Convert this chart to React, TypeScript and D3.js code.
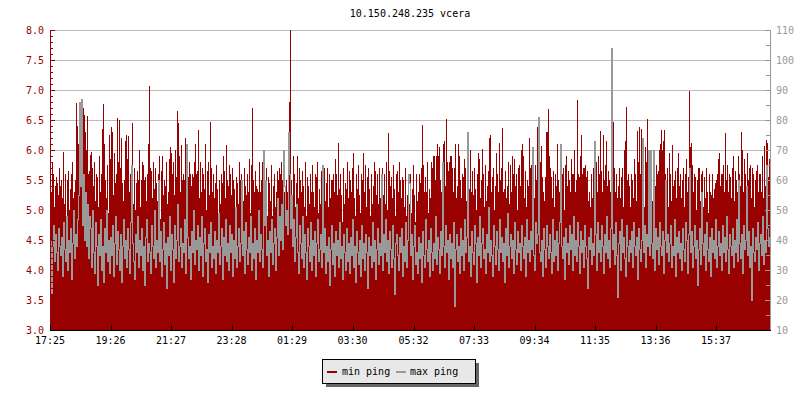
import React from "react";
import * as d3 from "d3";

const TITLE = "10.150.248.235 vcera";
const START = "17:25";
const STEP_MIN = 2;
const X_TICK_LABELS = ["17:25","19:26","21:27","23:28","01:29","03:30","05:32","07:33","09:34","11:35","13:36","15:37"];
const LEFT_TICKS = [3.0,3.5,4.0,4.5,5.0,5.5,6.0,6.5,7.0,7.5,8.0];
const RIGHT_TICKS = [10,20,30,40,50,60,70,80,90,100,110];
const SERIES_NAMES = ["min ping", "max ping"];

// min ping (left axis), one sample per 2 minutes
const minPing = [
5.4,5.3,5.8,5.6,5.05,5.4,5.55,5.45,5.25,5.7,
5.4,5.5,5.2,5.97,5.1,5.6,4.85,5.5,5.65,5.0,
5.35,5.6,5.8,5.2,5.3,5.5,6.78,6.4,6.1,5.3,
6.1,5.6,6.4,6.7,6.58,6.3,6.0,6.57,5.6,5.65,
5.92,5.97,5.7,5.4,5.8,5.15,5.6,5.55,5.05,5.9,
5.3,5.6,6.35,6.77,6.1,5.5,5.2,5.75,4.95,6.25,
5.85,6.38,6.3,5.25,5.95,5.45,5.6,6.54,5.8,6.5,
5.7,6.2,5.45,5.15,5.5,6.15,6.25,5.85,6.24,5.3,
5.6,5.2,6.45,5.1,5.7,5.0,5.45,5.65,5.5,6.0,
5.05,5.5,5.8,5.75,5.5,5.55,5.15,5.6,6.1,7.07,
5.7,5.65,5.2,5.8,5.35,5.7,5.45,5.15,5.6,5.9,
4.85,5.65,5.9,5.25,5.5,5.4,5.8,5.1,5.3,5.85,
6.05,5.95,5.6,5.8,5.25,6.0,5.55,6.65,6.45,5.9,
5.3,6.08,5.5,5.6,5.5,6.2,5.3,5.6,5.55,5.8,
5.6,5.4,5.6,5.55,5.8,6.1,5.6,5.65,6.33,5.2,
5.8,5.3,5.7,5.6,5.35,6.1,5.0,5.65,5.8,5.25,
6.47,5.7,5.3,5.6,5.2,5.45,5.75,5.35,4.8,5.5,
5.1,5.6,5.45,5.9,5.65,5.2,6.08,5.5,5.4,5.75,
5.6,5.25,5.7,5.5,5.35,4.9,5.55,5.45,5.1,5.8,
5.5,5.6,5.45,5.15,5.7,5.4,5.25,5.6,5.3,5.85,
4.95,5.75,6.7,5.5,5.3,5.65,5.4,5.35,5.3,5.8,
5.3,5.5,5.8,5.35,5.5,5.1,5.7,4.9,5.55,5.45,
5.15,5.75,4.9,5.4,5.6,5.05,5.3,5.65,5.5,5.7,
5.6,5.8,5.5,5.85,5.3,5.15,5.5,5.3,5.1,6.8,
8.0,5.5,5.2,5.9,5.6,5.05,5.45,5.9,5.2,5.7,
5.5,5.3,5.65,5.4,5.05,5.8,4.9,5.55,5.4,5.1,
5.6,5.3,5.75,5.3,5.05,5.6,5.55,5.8,4.95,5.35,
5.1,5.65,5.2,4.9,5.7,5.15,5.45,5.7,5.05,5.6,
5.2,5.5,5.5,5.6,5.3,5.85,5.6,5.25,6.12,5.35,
5.6,5.25,4.8,5.7,5.1,5.45,5.35,5.8,5.2,5.65,
5.5,5.3,5.7,5.95,5.2,4.9,5.6,5.35,5.75,5.25,
4.95,5.6,5.5,5.95,5.3,5.75,5.05,5.55,5.7,5.35,
4.9,5.6,5.1,5.4,5.8,5.65,5.25,5.6,5.1,5.7,
5.2,5.45,5.7,5.25,5.6,5.1,5.8,5.0,6.28,5.65,
5.4,5.55,5.2,5.75,5.35,4.9,5.6,5.65,5.3,5.8,
5.5,5.2,5.55,5.5,5.05,5.7,4.9,5.25,5.6,5.1,
5.6,4.95,5.35,5.75,5.25,4.8,5.6,5.15,5.3,5.6,
5.45,5.7,6.42,5.75,5.3,5.55,5.3,5.8,4.95,5.35,
5.2,5.8,5.7,5.9,5.9,5.5,5.9,6.1,5.9,6.05,
5.5,5.3,5.15,6.1,6.15,5.4,6.52,5.8,5.65,5.8,
5.9,5.9,5.7,5.3,5.7,6.1,5.2,5.4,6.1,5.9,
5.5,5.2,5.6,5.55,5.85,5.7,5.15,5.7,5.6,5.35,
6.0,5.3,5.65,5.25,5.7,5.35,5.0,5.6,5.95,5.85,
5.2,5.5,6.02,5.6,5.05,5.75,5.15,5.4,5.65,6.2,
6.25,5.3,5.55,5.7,5.0,5.4,5.95,5.6,5.3,6.12,
5.5,5.7,6.37,5.3,5.35,5.65,5.2,5.4,5.8,5.1,
5.75,5.3,5.9,5.6,5.85,5.4,5.6,5.0,5.7,5.75,
5.4,6.0,6.1,5.9,5.2,5.65,5.05,5.5,5.4,6.2,
5.7,5.75,5.3,5.65,5.2,5.75,5.5,6.39,5.3,6.26,
5.8,6.07,5.55,5.3,5.15,5.55,6.3,6.3,6.68,5.9,
5.7,5.55,5.2,5.65,5.05,5.6,5.4,6.1,5.5,5.3,
5.8,5.2,5.6,5.7,5.0,5.75,5.9,5.4,5.65,5.5,
5.3,5.85,5.6,5.6,6.0,5.3,5.5,6.83,5.6,5.55,
5.9,6.25,5.6,5.7,5.7,5.75,5.55,5.65,5.15,5.3,
5.05,5.6,5.2,5.7,5.5,4.95,5.8,5.3,5.9,5.6,
6.32,5.65,5.3,6.25,5.5,5.75,6.15,5.4,5.65,5.5,
5.3,5.7,5.6,6.47,5.7,5.3,5.6,5.2,5.4,5.7,
5.2,5.55,5.7,5.05,6.0,6.15,6.72,5.5,5.6,5.4,
5.05,5.6,5.5,5.2,5.85,5.6,5.15,6.31,5.8,6.39,
5.6,6.35,5.2,5.7,5.05,6.05,5.8,6.52,5.9,5.7,
5.95,5.6,5.15,5.55,5.4,5.4,5.75,5.6,5.65,6.0,
6.1,6.33,6.0,6.15,6.33,5.6,5.2,5.7,5.05,5.95,
5.6,5.15,6.08,5.4,5.5,5.65,5.2,5.7,5.95,5.4,
5.6,5.2,5.5,5.7,5.05,5.6,5.85,5.3,5.55,6.98,
6.05,6.12,5.75,5.3,5.6,5.55,5.0,5.5,5.7,5.7,
5.15,5.6,5.65,5.05,5.55,5.2,5.7,5.3,4.95,5.6,
5.3,5.25,5.6,5.2,5.35,5.45,5.5,5.6,5.85,5.95,
5.4,5.6,5.6,5.75,5.3,6.28,5.5,5.75,5.3,5.6,
5.55,5.2,5.7,5.9,5.15,5.65,5.5,5.3,5.9,5.6,
5.4,6.3,6.0,5.3,5.85,5.6,5.15,5.95,5.5,5.7,
5.75,5.2,5.7,5.6,5.05,5.5,5.65,5.75,5.3,5.6,
5.6,5.3,5.9,5.2,6.07,5.4,6.17,6.12,5.55,5.85
];

// max ping (right axis)
const maxPing = [
40,22,38,45,33,42,36,30,44,38,
35,41,28,46,37,33,48,30,40,36,
44,27,39,50,34,42,38,47,55,86,
58,87,45,62,40,56,38,52,34,48,
44,31,50,36,29,46,38,25,42,35,
47,30,38,26,44,36,50,33,40,29,
41,35,45,28,39,48,32,43,37,30,
42,26,38,47,34,40,31,44,37,29,
46,65,39,33,27,42,36,48,31,40,
35,44,30,38,25,41,47,33,39,36,
29,45,38,34,50,31,40,36,60,33,
43,28,37,46,32,39,24,41,35,48,
30,42,37,26,45,34,40,52,33,38,
44,31,39,36,47,29,72,41,34,38,
27,43,36,50,32,40,37,45,30,41,
35,48,28,39,44,33,37,26,42,36,
46,31,38,34,43,29,40,36,49,32,
38,44,27,41,35,47,33,39,30,45,
36,42,28,40,34,51,31,38,44,33,
39,60,35,43,29,46,37,32,41,36,
48,30,39,34,44,27,40,36,50,33,
42,37,31,70,45,60,35,40,28,43,
36,47,32,39,44,30,41,54,35,48,
40,52,37,70,58,45,50,42,76,62,
44,55,38,47,33,41,52,36,29,45,
39,34,48,31,42,36,27,44,38,33,
46,30,40,35,43,28,39,47,33,37,
42,31,65,36,44,29,38,33,41,25,
37,45,32,39,28,43,35,40,31,46,
34,38,27,42,36,30,44,33,39,29,
41,35,47,31,38,26,43,36,32,40,
28,45,34,39,30,42,36,24,41,35,
38,31,46,33,40,27,37,44,32,39,
35,62,30,42,36,47,33,40,29,43,
37,31,45,34,22,39,42,35,30,41,
36,44,28,38,33,46,31,40,62,59,
35,42,27,38,45,32,36,29,41,34,
39,26,43,35,31,47,37,33,40,28,
44,36,30,39,34,48,32,41,37,29,
43,35,66,38,31,45,36,40,27,42,
34,39,31,46,18,37,42,33,38,29,
44,35,40,30,47,36,41,76,33,38,
28,43,36,32,45,39,26,41,35,48,
31,39,44,34,37,29,42,36,51,33,
40,35,28,45,38,32,43,37,30,47,
36,41,33,39,26,44,35,49,31,38,
42,34,40,29,46,37,32,43,36,39,
30,45,38,34,41,28,47,36,40,33,
43,37,71,35,30,46,39,42,81,36,
33,40,28,44,37,31,45,38,34,42,
36,29,47,33,40,35,43,30,39,46,
72,38,34,41,27,44,36,39,32,45,
37,42,30,48,35,40,33,46,38,29,
43,36,40,31,45,38,34,24,41,37,
44,32,39,35,73,42,30,46,36,40,
33,45,38,29,42,36,48,34,40,31,
44,104,37,42,32,46,35,21,39,43,
30,47,36,41,34,28,45,38,33,40,
36,43,31,46,38,35,41,27,44,37,
33,40,74,36,45,31,42,38,70,35,
70,39,34,70,30,44,37,41,32,46,
38,35,43,29,40,60,36,42,33,39,
45,31,38,35,47,28,41,36,43,34,
39,30,44,37,33,46,40,29,42,64,
36,43,31,38,45,34,40,25,37,44,
32,56,39,35,42,30,46,37,33,41,
28,44,36,40,34,47,31,38,43,35,
39,30,45,36,41,33,48,37,29,42,
38,35,44,31,40,36,47,33,60,39,
34,42,29,45,37,40,58,35,43,31,
38,20,44,36,33,41,37,46,30,39,
42,35,48,32,40,36,65,44,38,41
];

const W = 800, H = 400;
const M = { left: 50, right: 770, top: 30, bottom: 330 };
const RED = "#990000";
const GRAY = "#999999";
const FONT = "'DejaVu Sans Mono', monospace";

function toMinutes(s: string) {
  const [h, m] = s.split(":").map(Number);
  return h * 60 + m;
}

export default function App() {
  const base = new Date(2020, 0, 1, 0, 0, 0);
  const startMin = toMinutes(START);
  const t0 = new Date(base.getTime() + startMin * 60000);
  const total = minPing.length * STEP_MIN;
  const t1 = new Date(t0.getTime() + total * 60000);
  const x = d3.scaleTime().domain([t0, t1]).range([M.left, M.right]);
  const yL = d3.scaleLinear().domain([3, 8]).range([M.bottom, M.top]);
  const yR = d3.scaleLinear().domain([10, 110]).range([M.bottom, M.top]);
  const tAt = (i: number) => new Date(t0.getTime() + i * STEP_MIN * 60000);

  const xTicks = X_TICK_LABELS.map((lab) => {
    let m = toMinutes(lab) - startMin;
    if (m < 0) m += 1440;
    return { lab, t: new Date(t0.getTime() + m * 60000) };
  });

  // aliased line: each column spans from previous value to current value
  const grayCols = maxPing.map((v, i) => {
    const prev = i > 0 ? maxPing[i - 1] : v;
    const a = Math.round(yR(prev));
    const b = Math.round(yR(v));
    const top = Math.min(a, b);
    const bot = Math.max(a, b);
    return { x: Math.round(x(tAt(i))), y: top, h: bot - top + 1 };
  });

  const leftMinor = d3.range(30, 81).map((v) => v / 10);
  const rightMinor = d3.range(10, 111, 5);

  return (
    <div style={{ position: "absolute", left: 0, top: 0 }}>
      <svg width={W} height={H} style={{ display: "block", background: "#fff" }} fontFamily={FONT}>
        <rect width={W} height={H} fill="#fff" />
        <text x={410} y={17} fontSize={10} textAnchor="middle" fill="#000">
          {TITLE}
        </text>
        <g shapeRendering="crispEdges">
          {LEFT_TICKS.filter((v) => v > 3).map((v) => (
            <line key={v} x1={M.left} x2={M.right} y1={Math.round(yL(v)) + 0.5} y2={Math.round(yL(v)) + 0.5} stroke="#bbbbbb" />
          ))}
        </g>
        <g shapeRendering="crispEdges" fill={RED}>
          {minPing.map((v, i) => {
            const x0 = Math.round(x(tAt(i)));
            const y0 = Math.round(yL(v));
            return <rect key={i} x={x0} y={y0} width={1} height={M.bottom - y0} />;
          })}
        </g>
        <g shapeRendering="crispEdges" fill={GRAY}>
          {grayCols.map((c, i) => (
            <rect key={i} x={c.x} y={c.y} width={1} height={c.h} />
          ))}
        </g>
        <g shapeRendering="crispEdges">
          <line x1={M.left + 0.5} x2={M.left + 0.5} y1={M.top} y2={M.bottom} stroke={RED} />
          {leftMinor.map((v, i) => (
            <line key={i} x1={M.left} x2={M.left + (i % 5 === 0 ? 5 : 3)} y1={Math.round(yL(v)) + 0.5} y2={Math.round(yL(v)) + 0.5} stroke={RED} />
          ))}
          <line x1={M.right + 0.5} x2={M.right + 0.5} y1={M.top} y2={M.bottom} stroke={GRAY} />
          {rightMinor.map((v, i) => (
            <line key={i} x1={M.right - (i % 2 === 0 ? 5 : 4)} x2={M.right + 1} y1={Math.round(yR(v)) + 0.5} y2={Math.round(yR(v)) + 0.5} stroke={GRAY} />
          ))}
          <line x1={M.left} x2={M.right + 1} y1={M.bottom + 0.5} y2={M.bottom + 0.5} stroke="#000" />
          {xTicks.map((d) => (
            <line key={d.lab} x1={Math.round(x(d.t)) + 0.5} x2={Math.round(x(d.t)) + 0.5} y1={M.bottom - 5} y2={M.bottom} stroke="#000" />
          ))}
        </g>
        {LEFT_TICKS.map((v) => (
          <text key={v} x={44} y={yL(v) + 4} fontSize={10} textAnchor="end" fill={RED}>
            {d3.format(".1f")(v)}
          </text>
        ))}
        {RIGHT_TICKS.map((v) => (
          <text key={v} x={776} y={yR(v) + 4} fontSize={10} textAnchor="start" fill={GRAY}>
            {v}
          </text>
        ))}
        {xTicks.map((d) => (
          <text key={d.lab} x={x(d.t)} y={344} fontSize={10} textAnchor="middle" fill="#000">
            {d3.timeFormat("%H:%M")(d.t)}
          </text>
        ))}
        <g shapeRendering="crispEdges">
          <rect x={326} y={363} width={153} height={24} fill="#666666" />
          <rect x={322.5} y={359.5} width={153} height={24} fill="#e8e8e8" stroke="#000" />
          <rect x={327} y={371} width={10} height={2} fill={RED} />
          <rect x={396} y={371} width={10} height={2} fill={GRAY} />
        </g>
        <text x={342} y={375} fontSize={10} fill="#000">{SERIES_NAMES[0]}</text>
        <text x={410} y={375} fontSize={10} fill="#000">{SERIES_NAMES[1]}</text>
      </svg>
    </div>
  );
}
